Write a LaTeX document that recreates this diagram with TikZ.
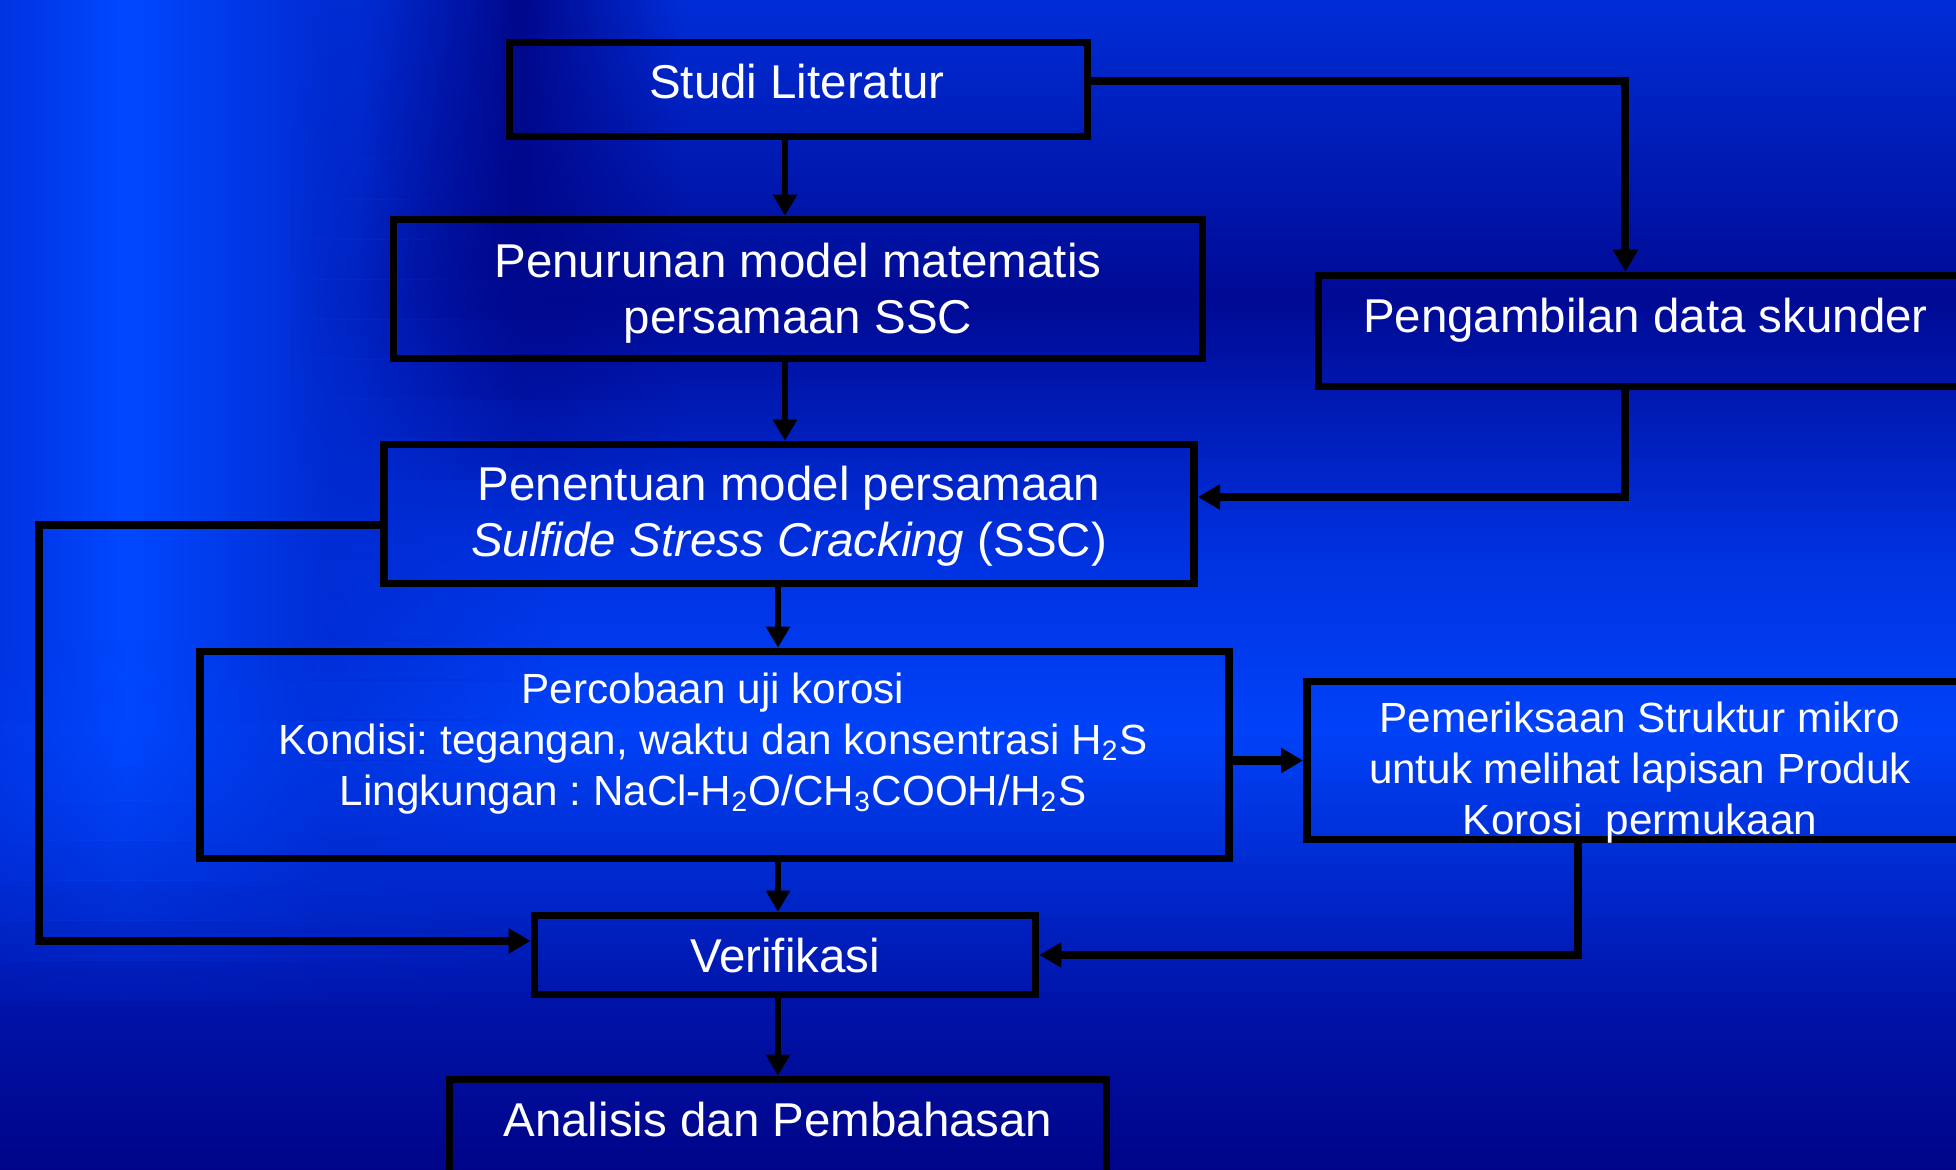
\documentclass[tikz,border=0pt]{standalone}
\usepackage{fontspec}
\setmainfont{Liberation Sans}
\usetikzlibrary{arrows.meta,fadings}

% Цвета фона
\definecolor{bgtop}{RGB}{0,45,215}
\definecolor{bgnavy}{RGB}{0,10,148}
\definecolor{bgmid}{RGB}{0,50,225}
\definecolor{bgbright}{RGB}{0,66,248}
\definecolor{bglow}{RGB}{0,20,170}
\definecolor{bgbottom}{RGB}{0,4,136}
\definecolor{bandnavy}{RGB}{0,8,140}
\definecolor{stripA}{RGB}{0,50,225}
\definecolor{stripB}{RGB}{0,72,255}
\definecolor{stripC}{RGB}{0,44,210}

% Заливки (100bp, рабочая часть 25bp--75bp)
\pgfdeclareverticalshading{bgshade}{100bp}{color(0bp)=(bgbottom); color(25bp)=(bgbottom); color(32.26bp)=(bglow); color(43.8bp)=(bgbright); color(51.07bp)=(bgmid); color(62.18bp)=(bgnavy); color(75bp)=(bgtop); color(100bp)=(bgtop)}
\pgfdeclarehorizontalshading{stripshade}{100bp}{color(0bp)=(stripA); color(25bp)=(stripA); color(36.16bp)=(stripB); color(54.46bp)=(stripC); color(75bp)=(stripC); color(100bp)=(stripC)}

\tikzfading[name=stripfade, left color=transparent!0, right color=transparent!100, middle color=transparent!0]
\tikzfading[name=bandfade, left color=transparent!100, right color=transparent!100, middle color=transparent!0]

\tikzset{
  box/.style={draw=black, line width=0.075cm, rectangle, inner sep=0pt},
  bigtext/.style={text=white, align=center, inner sep=0pt, font=\fontsize{13.5}{15.9}\selectfont\frenchspacing},
  smalltext/.style={text=white, align=center, inner sep=0pt, font=\fontsize{12}{14.4}\selectfont\frenchspacing},
  arr/.style={line width=0.06cm, -{Triangle[length=0.21cm,width=0.23cm]}},
  elbow/.style={line width=0.08cm, -{Triangle[length=0.22cm,width=0.24cm]}}
}

\begin{document}
\begin{tikzpicture}[x=0.01cm, y=-0.01cm]
    \useasboundingbox (0,0) rectangle (1956,1170);
    \clip (0,0) rectangle (1956,1170);

    % Фон
    \shade[shading=bgshade] (0,0) rectangle (1956,1170);
    \foreach \i in {0,...,24}
    {
        \pgfmathsetmacro{\op}{min(1,(25-\i)/10)}
        \shade[shading=stripshade, path fading=stripfade, fill opacity=\op] (0,\i*40) rectangle (560,\i*40+40);
    }
    \foreach \i in {0,...,11}
    {
        \pgfmathsetmacro{\op}{min(1,(12-\i)/6)}
        \fill[bandnavy, path fading=bandfade, fill opacity=\op] (360,\i*40) rectangle (680,\i*40+40);
    }

    % Блоки
    \node[box, minimum width=5.78cm, minimum height=0.94cm] (studi) at (798.5,89.5) {};
    \node[box, minimum width=8.09cm, minimum height=1.39cm] (penurunan) at (798,289) {};
    \node[box, minimum width=6.54cm, minimum height=1.11cm] (pengambilan) at (1645.5,331) {};
    \node[box, minimum width=8.10cm, minimum height=1.39cm] (penentuan) at (789,514) {};
    \node[box, minimum width=10.28cm, minimum height=2.07cm] (percobaan) at (714.5,755) {};
    \node[box, minimum width=6.66cm, minimum height=1.58cm] (pemeriksaan) at (1640,760.5) {};
    \node[box, minimum width=5.01cm, minimum height=0.79cm] (verifikasi) at (785,955) {};
    \node[box, minimum width=6.565cm, minimum height=1.005cm] (analisis) at (778,1129.75) {};

    % Подписи
    \node[bigtext] (studitext) at (797,82) {Studi Literatur};
    \node[bigtext] (penuruntext) at (798,293) {Penurunan model matematis\\persamaan SSC};
    \node[bigtext] (pengambiltext) at (1645.5,320) {Pengambilan data skunder};
    \node[bigtext] (penentuantext) at (789,516) {Penentuan model persamaan\\\textit{Sulfide Stress Cracking} (SSC)};
    \node[smalltext] (percobaantext) at (713,743.5) {Percobaan uji korosi\\Kondisi: tegangan, waktu dan konsentrasi H\textsubscript{2}S\\Lingkungan : NaCl-H\textsubscript{2}O/CH\textsubscript{3}COOH/H\textsubscript{2}S};
    \node[smalltext] (pemeriksaantext) at (1640,772.5) {Pemeriksaan Struktur mikro\\untuk melihat lapisan Produk\\Korosi\ \ permukaan};
    \node[bigtext] (verifikasitext) at (785,955.5) {Verifikasi};
    \node[bigtext] (analisistext) at (778,1119.5) {Analisis dan Pembahasan};

    % Стрелки
    \coordinate (loopcorner) at (38.7,700);
    \draw[arr] (studi.south -| verifikasi) -- (penurunan.north -| verifikasi);
    \draw[arr] (penurunan.south -| verifikasi) -- (penentuan.north -| verifikasi);
    \draw[arr] (penentuan.south -| analisis) -- (percobaan.north -| analisis);
    \draw[arr] (percobaan.south -| analisis) -- (verifikasi.north -| analisis);
    \draw[arr] (verifikasi.south -| analisis) -- (analisis.north);
    \draw[elbow] ([yshift=0.08cm]studi.east) -| ([xshift=-0.2cm]pengambilan.north);
    \draw[elbow] ([xshift=-0.2cm]pengambilan.south) |- ([yshift=0.17cm]penentuan.east);
    \draw[elbow] ([yshift=-0.11cm]penentuan.west) -| (loopcorner) |- ([yshift=0.14cm]verifikasi.west);
    \draw[elbow] (percobaan.east |- pemeriksaan.west) -- (pemeriksaan.west);
    \draw[elbow] ([xshift=-0.62cm]pemeriksaan.south) |- (verifikasi.east);
\end{tikzpicture}
\end{document}
